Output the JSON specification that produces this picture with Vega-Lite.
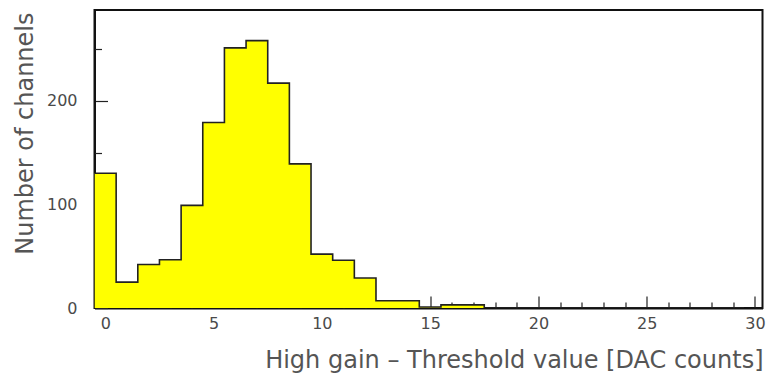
{
  "$schema": "https://vega.github.io/schema/vega-lite/v6.json",
  "width": 668,
  "height": 298,
  "autosize": {"type": "none"},
  "padding": {"left": 94.5, "top": 10, "right": 3.5, "bottom": 67},
  "background": "white",
  "config": {
    "view": {"stroke": "#111", "strokeWidth": 2},
    "axis": {"zindex": 1}
  },
  "data": {
    "values": [
      {"lo": -0.5, "n": 130},
      {"lo": 0.5, "n": 25},
      {"lo": 1.5, "n": 42},
      {"lo": 2.5, "n": 46.5},
      {"lo": 3.5, "n": 99},
      {"lo": 4.5, "n": 179},
      {"lo": 5.5, "n": 251},
      {"lo": 6.5, "n": 258},
      {"lo": 7.5, "n": 217},
      {"lo": 8.5, "n": 139},
      {"lo": 9.5, "n": 52},
      {"lo": 10.5, "n": 46},
      {"lo": 11.5, "n": 29},
      {"lo": 12.5, "n": 7},
      {"lo": 13.5, "n": 7},
      {"lo": 14.5, "n": 1},
      {"lo": 15.5, "n": 3},
      {"lo": 16.5, "n": 3},
      {"lo": 17.5, "n": 0},
      {"lo": 18.5, "n": 0},
      {"lo": 19.5, "n": 0},
      {"lo": 20.5, "n": 0},
      {"lo": 21.5, "n": 0},
      {"lo": 22.5, "n": 0},
      {"lo": 23.5, "n": 0},
      {"lo": 24.5, "n": 0},
      {"lo": 25.5, "n": 0},
      {"lo": 26.5, "n": 0},
      {"lo": 27.5, "n": 0},
      {"lo": 28.5, "n": 0},
      {"lo": 29.5, "n": 0}
    ]
  },
  "resolve": {"axis": {"x": "independent", "y": "independent"}},
  "layer": [
    {
      "mark": {"type": "area", "interpolate": "step-after", "color": "#ffff00", "opacity": 1, "clip": true},
      "encoding": {
        "x": {
          "field": "lo", "type": "quantitative",
          "scale": {"domain": [-0.5, 30.35], "nice": false, "zero": false},
          "axis": {
            "orient": "bottom",
            "values": [0, 5, 10, 15, 20, 25, 30],
            "tickSize": -12, "tickColor": "#222", "tickWidth": 1.2,
            "domain": true, "domainColor": "#111", "domainWidth": 2,
            "grid": false,
            "labelFont": "DejaVu Sans", "labelFontSize": 16, "labelColor": "#4a4a4a",
            "labelPadding": 19, "labelBaseline": "top", "labelFlush": false,
            "title": "High gain – Threshold value [DAC counts]",
            "titleFont": "DejaVu Sans", "titleFontSize": 24, "titleFontWeight": "normal",
            "titleColor": "#555555", "titleAlign": "right", "titleBaseline": "alphabetic",
            "titleX": 668.5, "titleY": 59.3, "titleAnchor": null
          }
        },
        "y": {
          "field": "n", "type": "quantitative",
          "scale": {"domain": [0, 287.5], "nice": false},
          "axis": {
            "orient": "left",
            "values": [0, 100, 200],
            "tickSize": -13, "tickColor": "#222", "tickWidth": 1.2,
            "domain": true, "domainColor": "#111", "domainWidth": 2,
            "grid": false,
            "labelFont": "DejaVu Sans", "labelFontSize": 16, "labelColor": "#4a4a4a",
            "labelPadding": 30.5, "labelBaseline": "middle", "labelFlush": false,
            "title": "Number of channels",
            "titleFont": "DejaVu Sans", "titleFontSize": 24, "titleFontWeight": "normal",
            "titleColor": "#555555", "titleAngle": -90, "titleAlign": "right", "titleBaseline": "alphabetic",
            "titleX": -62.5, "titleY": 2, "titleAnchor": null
          }
        }
      }
    },
    {
      "mark": {"type": "line", "interpolate": "step-after", "color": "#222", "strokeWidth": 1.6, "clip": true},
      "encoding": {
        "x": {
          "field": "lo", "type": "quantitative",
          "scale": {"domain": [-0.5, 30.35], "nice": false, "zero": false},
          "axis": {
            "orient": "bottom",
            "values": [1,2,3,4,6,7,8,9,11,12,13,14,16,17,18,19,21,22,23,24,26,27,28,29],
            "tickSize": -6, "tickColor": "#222", "tickWidth": 1.2,
            "domain": false, "labels": false, "grid": false, "title": null
          }
        },
        "y": {
          "field": "n", "type": "quantitative",
          "scale": {"domain": [0, 287.5], "nice": false},
          "axis": {
            "orient": "left",
            "values": [50, 150, 250],
            "tickSize": -7, "tickColor": "#222", "tickWidth": 1.2,
            "domain": false, "labels": false, "grid": false, "title": null
          }
        }
      }
    }
  ]
}
